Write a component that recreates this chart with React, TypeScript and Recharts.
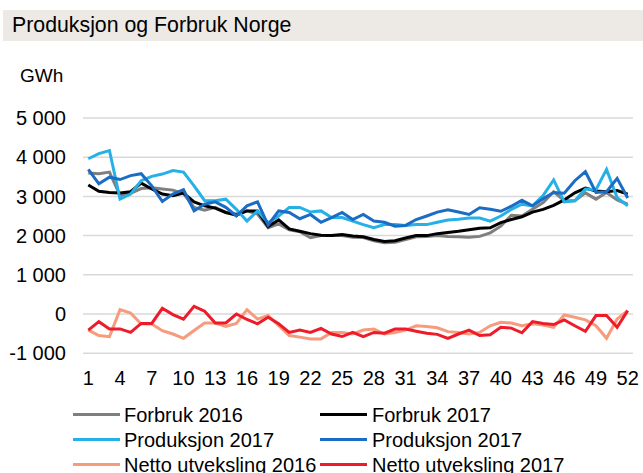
import React from 'react';
import { LineChart, Line, XAxis, YAxis, CartesianGrid, Legend } from 'recharts';

const weeks: number[] = Array.from({ length: 52 }, (_, i) => i + 1);

const forbruk2016: number[] = [3600, 3580, 3620, 3020, 3080, 3200, 3220, 3190, 3160, 3070, 2720, 2650, 2720, 2590, 2550, 2630, 2550, 2200, 2300, 2150, 2100, 1950, 2000, 2000, 2000, 1960, 1950, 1870, 1820, 1830, 1900, 1970, 1980, 2000, 1980, 1970, 1960, 1980, 2070, 2240, 2520, 2500, 2670, 2840, 3120, 2890, 2890, 3090, 2930, 3100, 2910, 2800];
const forbruk2017: number[] = [3290, 3130, 3100, 3085, 3120, 3340, 3190, 3060, 3020, 3085, 2860, 2760, 2700, 2590, 2520, 2630, 2630, 2230, 2400, 2170, 2110, 2050, 2010, 2000, 2030, 1990, 1970, 1900, 1850, 1870, 1940, 2000, 2000, 2050, 2080, 2110, 2150, 2190, 2200, 2330, 2410, 2480, 2600, 2670, 2770, 2910, 3090, 3210, 3140, 3120, 3150, 3060];
const produksjonA: number[] = [3960, 4090, 4170, 2930, 3060, 3400, 3510, 3570, 3660, 3620, 3270, 2890, 2890, 2930, 2670, 2370, 2630, 2330, 2500, 2720, 2720, 2600, 2630, 2460, 2460, 2370, 2280, 2200, 2280, 2280, 2260, 2280, 2280, 2340, 2400, 2420, 2450, 2450, 2370, 2500, 2670, 2800, 2760, 3020, 3420, 2860, 2890, 3190, 3170, 3690, 2970, 2760];
const produksjonB: number[] = [3690, 3320, 3490, 3430, 3530, 3580, 3270, 2870, 3060, 3170, 2630, 2800, 2860, 2720, 2500, 2760, 2860, 2270, 2630, 2590, 2430, 2540, 2340, 2460, 2590, 2410, 2540, 2370, 2340, 2240, 2260, 2410, 2500, 2600, 2660, 2600, 2540, 2710, 2670, 2620, 2750, 2900, 2760, 2940, 3100, 3080, 3400, 3630, 3100, 3120, 3460, 2960];
const netto2016: number[] = [-410, -550, -580, 110, 25, -255, -255, -425, -510, -620, -420, -230, -230, -320, -240, 110, -130, -40, -300, -550, -590, -635, -635, -470, -470, -510, -410, -385, -510, -470, -410, -300, -320, -350, -450, -470, -510, -470, -300, -210, -230, -300, -250, -280, -340, -25, -85, -150, -300, -620, -130, 85];
const netto2017: number[] = [-410, -195, -380, -380, -470, -240, -240, 145, -15, -130, 195, 70, -230, -230, 0, -140, -250, -85, -250, -470, -410, -470, -365, -510, -575, -470, -575, -470, -490, -385, -385, -440, -490, -520, -620, -510, -410, -550, -530, -340, -360, -480, -195, -240, -270, -150, -300, -440, -40, -40, -340, 85];

const yTicks: number[] = [-1000, 0, 1000, 2000, 3000, 4000, 5000];

const seriesNames: string[] = ['Forbruk 2016', 'Forbruk 2017', 'Produksjon 2017', 'Produksjon 2017', 'Netto utveksling 2016', 'Netto utveksling 2017'];
const seriesKeys: string[] = ['f16', 'f17', 'pA', 'pB', 'n16', 'n17'];
const seriesColors: string[] = ['#7f7f7f', '#000000', '#25b0e8', '#1b6cc4', '#f79b7d', '#ee1c2a'];

const data = weeks.map((w, i) => ({
  week: w,
  f16: forbruk2016[i],
  f17: forbruk2017[i],
  pA: produksjonA[i],
  pB: produksjonB[i],
  n16: netto2016[i],
  n17: netto2017[i],
}));

const FONT = '"Liberation Sans", Arial, sans-serif';

const fmt = (v: number): string => {
  const s = Math.abs(v).toString().replace(/\B(?=(\d{3})+(?!\d))/g, ' ');
  return (v < 0 ? '-' : '') + s;
};

const legendLayout = [
  { col: 0, row: 0 },
  { col: 1, row: 0 },
  { col: 0, row: 1 },
  { col: 1, row: 1 },
  { col: 0, row: 2 },
  { col: 1, row: 2 },
];

const renderLegend = () => {
  const colLine = [73, 320];
  const colText = [124, 372];
  const rowCenter = [14.5, 39.5, 64.5];
  return (
    <div style={{ position: 'relative', width: 643, height: 73, fontFamily: FONT }}>
      {seriesNames.map((name, i) => {
        const { col, row } = legendLayout[i];
        return (
          <React.Fragment key={i}>
            <div style={{ position: 'absolute', left: colLine[col], top: rowCenter[row] - 1.5, width: 47, height: 3, background: seriesColors[i] }} />
            <div style={{ position: 'absolute', left: colText[col], top: rowCenter[row] - 11.8, fontSize: 20, lineHeight: '24px', color: '#000', whiteSpace: 'nowrap' }}>{name}</div>
          </React.Fragment>
        );
      })}
    </div>
  );
};

export default function App() {
  return (
    <div style={{ position: 'absolute', left: 0, top: 0, width: 643, height: 473, background: '#fff', fontFamily: FONT, overflow: 'hidden' }}>
      <div style={{ position: 'absolute', left: 3, top: 10, width: 640, height: 31, background: '#ede9e5' }} />
      <div style={{ position: 'absolute', left: 12, top: 13.1, fontSize: 21.3, lineHeight: '24px', color: '#000', whiteSpace: 'nowrap' }}>Produksjon og Forbruk Norge</div>
      <div style={{ position: 'absolute', left: 20, top: 65.2, fontSize: 19, lineHeight: '22px', color: '#000' }}>GWh</div>
      <div style={{ position: 'absolute', left: 0, top: 0 }}>
        <LineChart width={643} height={473} data={data} margin={{ top: 118, right: 10, left: 0, bottom: 89.8 }}>
          <CartesianGrid horizontal vertical={false} stroke="#d9d9d9" strokeWidth={1.5} />
          <XAxis
            dataKey="week"
            interval={2}
            tickLine={false}
            axisLine={false}
            tickSize={0}
            tickMargin={17.5}
            height={30}
            padding={{ left: 5.3, right: 5.3 }}
            tick={{ fill: '#000', fontSize: 20, fontFamily: FONT }}
          />
          <YAxis
            domain={[-1000, 5000]}
            ticks={yTicks}
            width={83}
            tickLine={false}
            axisLine={false}
            tickSize={0}
            tickMargin={17}
            tickFormatter={fmt}
            tick={{ fill: '#000', fontSize: 20, fontFamily: FONT }}
          />
          <Legend verticalAlign="middle" align="center" layout="horizontal" wrapperStyle={{ top: 400, left: 0, width: 643, height: 73 }} content={renderLegend} />
          {seriesKeys.map((k, i) => (
            <Line key={k} type="linear" dataKey={k} name={seriesNames[i]} stroke={seriesColors[i]} strokeWidth={3} dot={false} activeDot={false} isAnimationActive={false} />
          ))}
        </LineChart>
      </div>
    </div>
  );
}
